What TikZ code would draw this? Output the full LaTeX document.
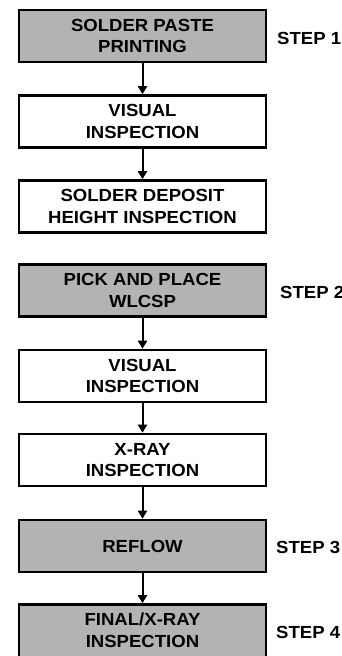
\documentclass[tikz,border=0pt]{standalone}
\usepackage{fontspec}
\setmainfont[FakeStretch=1.06]{Liberation Sans}
\usetikzlibrary{arrows.meta}
\definecolor{boxgray}{RGB}{179,179,179}
\tikzset{
  boxfont/.style={font=\fontsize{17.5}{21.7}\selectfont\bfseries},
  stepbox/.style={draw=black, line width=2.6pt, minimum width=247pt, minimum height=52pt,
    inner sep=0pt, align=center, boxfont},
  keybox/.style={stepbox, fill=boxgray},
  plainbox/.style={stepbox, fill=white},
  boxtext/.style={inner sep=0pt, align=center, boxfont},
  steplabel/.style={anchor=base west, inner sep=0pt, boxfont},
  arr/.style={line width=2pt, -{Triangle[width=9pt,length=8pt]}}
}
\begin{document}
\begin{tikzpicture}[x=1pt,y=-1pt]
\useasboundingbox (0,0) rectangle (342,656);
\node[keybox]   (b1) at (142.5,36)    {SOLDER PASTE\\PRINTING};
\node[plainbox] (b2) at (142.5,121.5) {VISUAL\\INSPECTION};
\node[plainbox] (b3) at (142.5,206.5) {SOLDER DEPOSIT\\HEIGHT INSPECTION};
\node[keybox]   (b4) at (142.5,290.5) {PICK AND PLACE\\WLCSP};
\node[plainbox] (b5) at (142.5,376)   {VISUAL\\INSPECTION};
\node[plainbox] (b6) at (142.5,460)   {X-RAY\\INSPECTION};
\node[keybox]   (b7) at (142.5,546)   {REFLOW};
\node[keybox, minimum height=58pt] (b8) at (142.5,633.5) {};
\node[boxtext]  (t8) at (142.5,630.5) {FINAL/X-RAY\\INSPECTION};
\node[steplabel] (s1) at (277,44.3) {STEP 1};
\node[steplabel] (s2) at (280,298)  {STEP 2};
\node[steplabel] (s3) at (276,553)  {STEP 3};
\node[steplabel] (s4) at (276,638)  {STEP 4};
\draw[arr] (b1) -- (b2);
\draw[arr] (b2) -- (b3);
\draw[arr] (b4) -- (b5);
\draw[arr] (b5) -- (b6);
\draw[arr] (b6) -- (b7);
\draw[arr] (b7) -- (b8);
\end{tikzpicture}
\end{document}
